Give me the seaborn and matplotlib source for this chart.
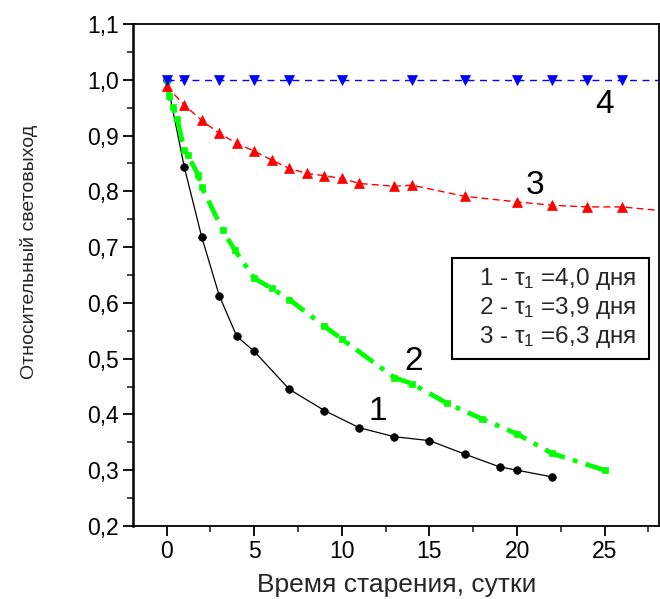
import numpy as np
import pandas as pd
import matplotlib
matplotlib.use("Agg")
import matplotlib.pyplot as plt
import seaborn as sns
from matplotlib.ticker import MultipleLocator, FuncFormatter
from matplotlib.patches import Rectangle
from matplotlib import font_manager

# ---- data ----
x1 = [0, 1, 2, 3, 4, 5, 7, 9, 11, 13, 15, 17, 19, 20, 22]
y1 = [1.0, 0.844, 0.718, 0.613, 0.54, 0.513, 0.445, 0.407, 0.376, 0.36, 0.353, 0.329, 0.306, 0.30, 0.288]

x2 = [0, 0.15, 0.35, 0.6, 1.0, 1.2, 1.8, 2.0, 3.2, 3.9, 5, 6, 7, 9, 10, 13, 14, 16, 18, 20, 22, 25]
y2 = [1.0, 0.97, 0.952, 0.93, 0.874, 0.865, 0.829, 0.808, 0.73, 0.694, 0.644, 0.626, 0.606, 0.558,
      0.535, 0.466, 0.455, 0.42, 0.392, 0.365, 0.33, 0.30]

x3 = [0, 1, 2, 3, 4, 5, 6, 7, 8, 9, 10, 11, 13, 14, 17, 20, 22, 24, 26, 29]
y3 = [0.988, 0.955, 0.927, 0.904, 0.886, 0.872, 0.856, 0.841, 0.832, 0.828, 0.823, 0.814, 0.809,
      0.811, 0.791, 0.781, 0.775, 0.772, 0.772, 0.763]

x4 = [0, 1, 3, 5, 7, 10, 14, 17, 20, 22, 24, 26, 29]
y4 = [1.0] * 13

curve_labels = ["1", "2", "3", "4"]
curve_label_x = [12.05, 14.1, 21.0, 25.0]
curve_label_y = [0.405, 0.495, 0.811, 0.955]

legend_lines = [r"1 - $\mathregular{\tau_1}$ =4,0 дня",
                r"2 - $\mathregular{\tau_1}$ =3,9 дня",
                r"3 - $\mathregular{\tau_1}$ =6,3 дня"]

xlabel = "Время старения, сутки"
ylabel = "Относительный световыход"

# ---- style ----
sns.set_theme(style="ticks")
plt.rcParams["font.family"] = ["Liberation Sans", "DejaVu Sans"]
plt.rcParams["mathtext.fontset"] = "custom"
plt.rcParams["mathtext.rm"] = "Liberation Sans"
plt.rcParams["mathtext.it"] = "Liberation Sans:italic"

names = {f.name for f in font_manager.fontManager.ttflist}
if "Liberation Sans Narrow" in names:
    yfam, ysize = "Liberation Sans Narrow", 16.5
else:
    yfam, ysize = "Liberation Sans", 14

fig = plt.figure(figsize=(6.6, 5.99), dpi=100)
ax = fig.add_axes([0.2008, 0.1219, 0.7977, 0.8381])

sns.lineplot(x=x1, y=y1, ax=ax, color="black", lw=0.9, marker="o", markersize=5.5,
             markeredgecolor="black", markeredgewidth=0.5, sort=False)
sns.lineplot(x=x2, y=y2, ax=ax, color="#00ff00", lw=3.4, linestyle=(0, (4.5, 1.8, 1, 1.8)),
             marker="s", markersize=4.5, markeredgecolor="#00ff00", markeredgewidth=0.5, sort=False)
sns.lineplot(x=x3, y=y3, ax=ax, color="#ff0000", lw=1.0, linestyle=(0, (5, 3)),
             marker="^", markersize=6.5, markeredgecolor="#ff0000", markeredgewidth=0.5, sort=False)
sns.lineplot(x=x4, y=y4, ax=ax, color="#0000ff", lw=1.0, linestyle=(0, (5, 4)),
             marker="v", markersize=7, markeredgecolor="#0000ff", markeredgewidth=0.5, sort=False)

ax.set_xlim(-1.95, 28.1)
ax.set_ylim(0.2, 1.1)
ax.xaxis.set_major_locator(MultipleLocator(5))
ax.xaxis.set_minor_locator(MultipleLocator(2.5))
ax.yaxis.set_major_locator(MultipleLocator(0.1))
ax.yaxis.set_minor_locator(MultipleLocator(0.05))
ax.yaxis.set_major_formatter(FuncFormatter(lambda v, p: f"{v:.1f}".replace(".", ",")))
ax.xaxis.set_major_formatter(FuncFormatter(lambda v, p: f"{v:.0f}"))

ax.tick_params(which="major", direction="out", length=7, width=1.3, labelsize=16.5, pad=3,
               colors="black")
ax.tick_params(which="minor", direction="out", length=4, width=1.2)
for s in ax.spines.values():
    s.set_visible(True)
    s.set_linewidth(1.3)
    s.set_color("black")
ax.spines["left"].set_linewidth(1.8)

ax.set_xlabel(xlabel, fontsize=19)
ax.set_ylabel(ylabel, fontsize=ysize, family=[yfam, "DejaVu Sans"])
ax.xaxis.set_label_coords(0.502, -0.117)
ax.xaxis.label.set_va("center")
ax.yaxis.set_label_coords(-0.197, 0.546)
ax.yaxis.label.set_va("center")

for t, xx, yy in zip(curve_labels, curve_label_x, curve_label_y):
    ax.text(xx, yy, t, fontsize=24, ha="center", va="center", color="black")

ax.add_patch(Rectangle((0.607, 0.333), 0.374, 0.201, transform=ax.transAxes,
                       facecolor="white", edgecolor="black", lw=1.5, zorder=5))
for t, yy in zip(legend_lines, [0.492, 0.434, 0.376]):
    ax.text(0.956, yy, t, transform=ax.transAxes, fontsize=17.5, ha="right", va="center",
            zorder=6)

fig.savefig("out.png", dpi=100)
